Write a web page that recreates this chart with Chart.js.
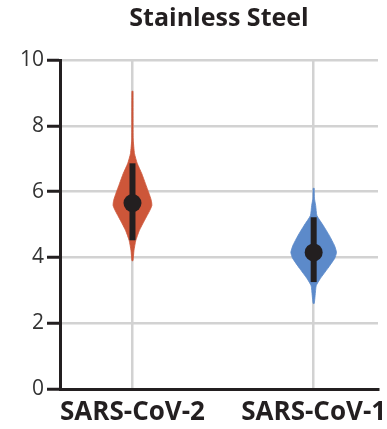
<!DOCTYPE html>
<html>
<head>
<meta charset="utf-8">
<script src="https://cdn.jsdelivr.net/npm/chart.js@4.4.1/dist/chart.umd.min.js"></script>
<style>
  html, body { margin: 0; padding: 0; background: #fff; }
  #wrap { width: 387px; height: 429px; }
</style>
</head>
<body>
<div id="wrap"><canvas id="myChart"></canvas></div>
<script>
// categories and their x positions
const categories = ['SARS-CoV-2', 'SARS-CoV-1'];
const positions = [0, 1];
const y_ticks = [0, 2, 4, 6, 8, 10];

// violin outlines: levels and half widths at each level
const cov2_levels = [9.05, 7.6, 7.16, 6.86, 6.55, 6.25, 5.95, 5.73, 5.58, 5.43, 5.12, 4.82, 4.51, 4.2, 3.9];
const cov2_widths = [0.003, 0.004, 0.011, 0.026, 0.051, 0.071, 0.091, 0.104, 0.107, 0.096, 0.066, 0.038, 0.018, 0.008, 0.003];
const cov1_levels = [6.1, 5.8, 5.58, 5.27, 4.97, 4.66, 4.36, 4.15, 3.97, 3.66, 3.36, 3.14, 2.84, 2.6];
const cov1_widths = [0.003, 0.004, 0.011, 0.018, 0.053, 0.087, 0.115, 0.126, 0.116, 0.077, 0.037, 0.014, 0.008, 0.003];

// median and interval
const medians = [5.65, 4.15];
const lows = [4.52, 3.25];
const highs = [6.86, 5.22];

const colors = ['rgb(205, 86, 57)', 'rgb(92, 138, 202)'];

const violin_points = (pos, levels, widths) => {
    let pts = [];
    for (let i = 0; i < levels.length; i++) {
        pts.push({ x: pos + widths[i], y: levels[i] });
    }
    for (let i = levels.length - 1; i >= 0; i--) {
        pts.push({ x: pos - widths[i], y: levels[i] });
    }
    pts.push({ x: pos + widths[0], y: levels[0] });
    return pts;
};

// lower order is drawn on top
const datasets = [];
datasets.push({
    type: 'line',
    order: 3,
    data: violin_points(positions[0], cov2_levels, cov2_widths),
    backgroundColor: colors[0],
    borderColor: colors[0],
    borderWidth: 0.8,
    pointRadius: 0,
    tension: 0.15,
    fill: 'shape'
});
datasets.push({
    type: 'line',
    order: 3,
    data: violin_points(positions[1], cov1_levels, cov1_widths),
    backgroundColor: colors[1],
    borderColor: colors[1],
    borderWidth: 0.8,
    pointRadius: 0,
    tension: 0.15,
    fill: 'shape'
});
positions.forEach(function(pos, i) {
    datasets.push({
        type: 'line',
        order: 2,
        data: [{ x: pos, y: lows[i] }, { x: pos, y: highs[i] }],
        borderColor: '#231f20',
        borderWidth: 6,
        borderCapStyle: 'butt',
        pointRadius: 0,
        fill: false
    });
});
datasets.push({
    type: 'scatter',
    order: 1,
    data: positions.map((pos, i) => ({ x: pos, y: medians[i] })),
    backgroundColor: '#231f20',
    borderColor: '#231f20',
    borderWidth: 0,
    pointRadius: 9,
    pointHoverRadius: 9
});

var ctx = document.getElementById('myChart').getContext('2d');
var chart = new Chart(ctx, {
    type: 'scatter',
    data: { datasets: datasets },
    options: {
        responsive: true,
        maintainAspectRatio: false,
        animation: false,
        layout: { padding: { right: 6, bottom: 0 } },
        plugins: {
            legend: { display: false },
            tooltip: { enabled: false },
            title: {
                display: true,
                text: 'Stainless Steel',
                fullSize: false,
                color: '#231f20',
                font: { family: 'Open Sans', size: 25, weight: 'bold' },
                padding: { top: 4, bottom: 26 }
            }
        },
        scales: {
            x: {
                type: 'linear',
                min: -0.4,
                max: 1.355,
                afterBuildTicks: (scale) => {
                    scale.ticks = positions.map(v => ({ value: v }));
                },
                afterFit: (scale) => {
                    scale.height = 40;
                    scale.paddingLeft = 0;
                    scale.paddingRight = 0;
                },
                ticks: {
                    color: '#231f20',
                    padding: 8,
                    maxRotation: 0,
                    autoSkip: false,
                    font: { family: 'Open Sans', size: 26, weight: 'bold' },
                    callback: (value) => categories[positions.indexOf(value)]
                },
                grid: { color: '#d2d2d2', lineWidth: 2.5, drawTicks: false },
                border: { color: '#231f20', width: 3 }
            },
            y: {
                min: 0,
                max: 10,
                afterBuildTicks: (scale) => {
                    scale.ticks = y_ticks.map(v => ({ value: v }));
                },
                afterFit: (scale) => { scale.width = 60; },
                ticks: {
                    color: '#333',
                    padding: 3,
                    font: { family: 'Open Sans', size: 21 }
                },
                grid: { color: '#d2d2d2', lineWidth: 2.5, tickColor: '#231f20', tickLength: 13, tickWidth: 3 },
                border: { color: '#231f20', width: 3 }
            }
        }
    }
});
</script>
</body>
</html>
